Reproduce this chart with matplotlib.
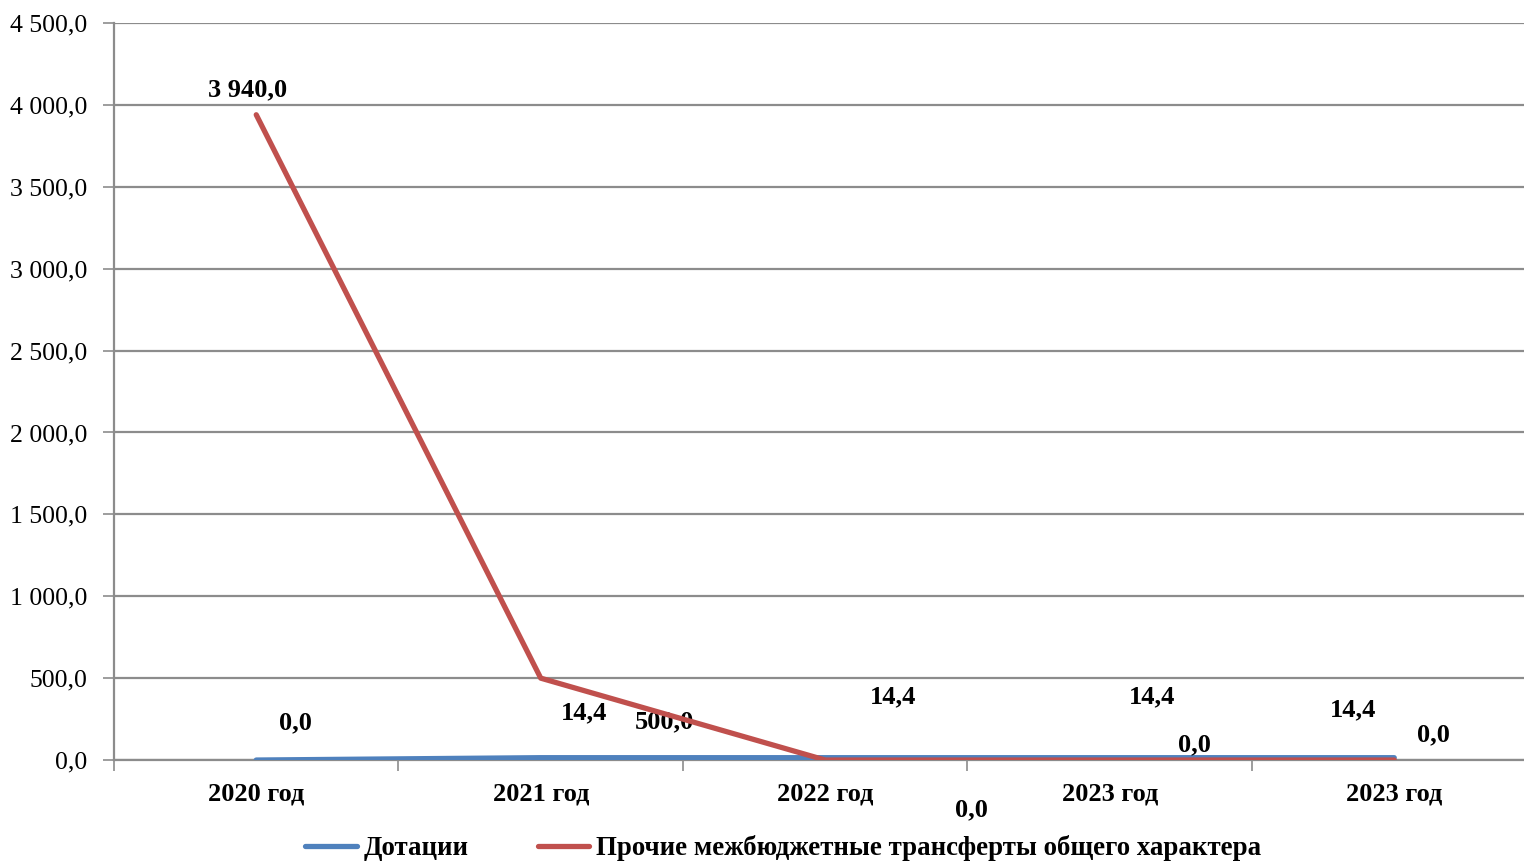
import matplotlib.pyplot as plt
from matplotlib.ticker import FuncFormatter
from matplotlib.lines import Line2D

categories = ["2020 год", "2021 год", "2022 год", "2023 год", "2023 год"]
dotacii = [0.0, 14.4, 14.4, 14.4, 14.4]
prochie = [3940.0, 500.0, 0.0, 0.0, 0.0]
series_names = ["Дотации", "Прочие межбюджетные трансферты общего характера"]

# label offsets (pixels) relative to the point, as placed in the original
blue_offsets = [(39, 37), (43, 45), (68, 61), (42, 61), (-41, 48)]
red_offsets = [(-9, 25), (124, -44), (146, -50), (85, 15), (39, 25)]

BLUE = "#4F81BD"
RED = "#C0504D"
GRID = "#8C8C8C"

plt.rcParams['font.family'] = ['Liberation Serif', 'DejaVu Serif']


def ru_fmt(v, pos=None):
    s = f"{v:,.1f}".replace(",", " ").replace(".", ",")
    return s


fig = plt.figure(figsize=(15.24, 8.63), dpi=100)
ax = fig.add_axes([0.0748, 0.1193, 0.9334, 0.854])

x = list(range(len(categories)))
ax.plot(x, dotacii, color=BLUE, lw=3.8, solid_capstyle='round', zorder=3)
ax.plot(x, prochie, color=RED, lw=3.8, solid_capstyle='round', zorder=4)

for i, v in enumerate(dotacii):
    ax.annotate(ru_fmt(v), (i, v), xytext=blue_offsets[i], textcoords='offset pixels',
                ha='center', va='center', fontsize=19, fontweight='bold')
for i, v in enumerate(prochie):
    ax.annotate(ru_fmt(v), (i, v), xytext=red_offsets[i], textcoords='offset pixels',
                ha='center', va='center', fontsize=19, fontweight='bold')

ax.set_xlim(-0.5, len(categories) - 0.5)
ax.set_ylim(0, 4500)
ax.set_yticks(range(0, 4501, 500))
ax.yaxis.set_major_formatter(FuncFormatter(ru_fmt))
ax.grid(axis='y', color=GRID, lw=1.6)
ax.set_axisbelow(True)

ax.set_xticks([i - 0.5 for i in range(len(categories) + 1)])
ax.set_xticklabels([])
ax.set_xticks(x, minor=True)
ax.set_xticklabels(categories, minor=True, fontsize=19, fontweight='bold')
ax.tick_params(axis='x', which='minor', length=0, pad=16)
ax.tick_params(axis='x', which='major', length=8, width=1.2, color=GRID, direction='out')
ax.tick_params(axis='y', length=8, width=1.2, color=GRID, labelsize=18.5, pad=11)

for side in ['top', 'right']:
    ax.spines[side].set_visible(False)
ax.spines['left'].set_color(GRID)
ax.spines['left'].set_linewidth(1.6)
ax.spines['bottom'].set_color(GRID)
ax.spines['bottom'].set_linewidth(1.6)

handles = [Line2D([], [], color=BLUE, lw=3.8, solid_capstyle='round'),
           Line2D([], [], color=RED, lw=3.8, solid_capstyle='round')]
leg = fig.legend(handles, series_names, loc='center', bbox_to_anchor=(0.514, 0.017), ncol=2,
                 frameon=False, prop={'size': 19.4, 'weight': 'bold'},
                 handlelength=1.9, handletextpad=0.25, columnspacing=2.6)

fig.savefig("out.png", dpi=100)
